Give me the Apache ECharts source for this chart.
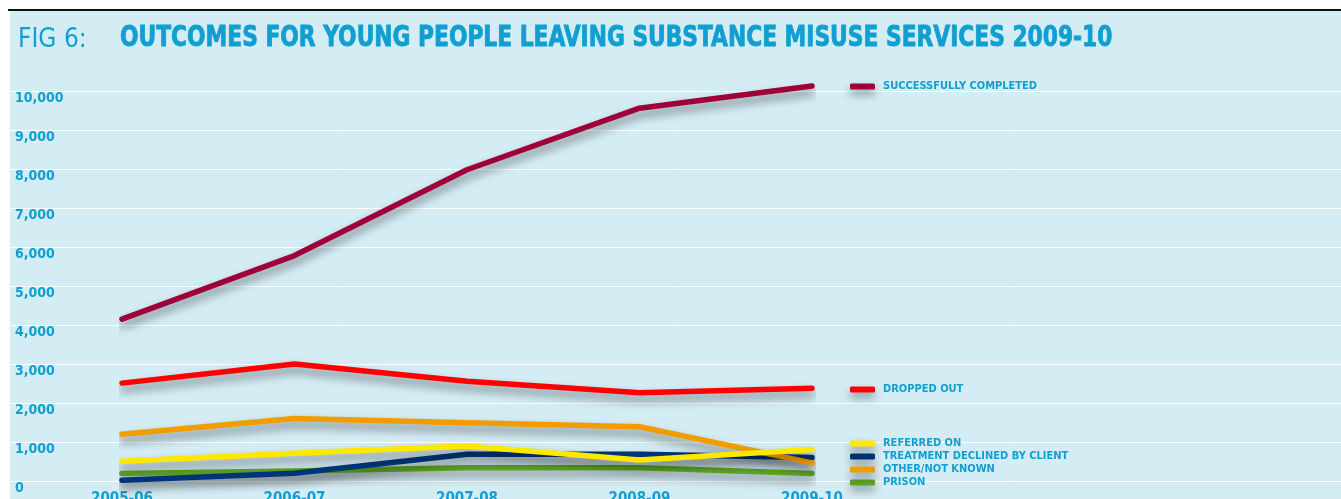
<!DOCTYPE html>
<html>
<head>
<meta charset="utf-8">
<script src="https://cdn.jsdelivr.net/npm/echarts@6/dist/echarts.min.js"></script>
<style>
html,body{margin:0;padding:0;background:#fff;}
#c{width:1341px;height:499px;}
</style>
</head>
<body>
<div id="c"></div>
<script>
const categories = ['2005-06', '2006-07', '2007-08', '2008-09', '2009-10'];
const successfullyCompleted = [4150, 5780, 7980, 9560, 10130];
const droppedOut = [2510, 3000, 2560, 2260, 2380];
const referredOn = [505, 710, 895, 540, 810];
const treatmentDeclined = [20, 200, 685, 685, 600];
const otherNotKnown = [1200, 1600, 1495, 1390, 465];
const prison = [195, 255, 340, 340, 195];
const yTicks = [0, 1000, 2000, 3000, 4000, 5000, 6000, 7000, 8000, 9000, 10000];

const FONT = '"Liberation Sans Narrow", "DejaVu Sans Condensed", sans-serif';
const BLUE = '#109fd0';

const seriesDefs = [
  {name: 'PRISON', data: prison, color: '#5ea625'},
  {name: 'TREATMENT DECLINED BY CLIENT', data: treatmentDeclined, color: '#003478'},
  {name: 'OTHER/NOT KNOWN', data: otherNotKnown, color: '#f39c00'},
  {name: 'REFERRED ON', data: referredOn, color: '#ffe800'},
  {name: 'DROPPED OUT', data: droppedOut, color: '#ff0000'},
  {name: 'SUCCESSFULLY COMPLETED', data: successfullyCompleted, color: '#a0003a'}
];

const legendTops = {
  'SUCCESSFULLY COMPLETED': 76,
  'DROPPED OUT': 379,
  'REFERRED ON': 433,
  'TREATMENT DECLINED BY CLIENT': 446,
  'OTHER/NOT KNOWN': 459,
  'PRISON': 472
};

const chart = echarts.init(document.getElementById('c'));
const fmt = v => String(v).replace(/\B(?=(\d{3})+(?!\d))/g, ',');

chart.setOption({
  animation: false,
  backgroundColor: '#ffffff',
  graphic: [
    {type: 'rect', z: -10, shape: {x: 10, y: 11, width: 1331, height: 488}, style: {fill: '#d4ecf4'}},
    {type: 'rect', z: 10, shape: {x: 8, y: 9, width: 1333, height: 2}, style: {fill: '#111'}},
    {type: 'text', x: 18, y: 27, style: {text: 'FIG 6:', fill: BLUE, font: '400 26px ' + FONT}},
    {type: 'text', x: 120, y: 25, scaleX: 0.865, style: {text: 'OUTCOMES FOR YOUNG PEOPLE LEAVING SUBSTANCE MISUSE SERVICES 2009-10', fill: BLUE, font: '700 28px ' + FONT, stroke: BLUE, lineWidth: 0.8}}
  ],
  grid: [
    {left: 10, right: 0, top: 91, bottom: 18, outerBoundsMode: 'none', containLabel: false},
    {left: 122, right: 529, top: 91, bottom: 18, outerBoundsMode: 'none', containLabel: false}
  ],
  xAxis: [
    {gridIndex: 0, type: 'value', show: false, min: 0, max: 1},
    {gridIndex: 1, type: 'category', boundaryGap: false, data: categories,
      axisLine: {show: false}, axisTick: {show: false}, splitLine: {show: false},
      axisLabel: {margin: 11, color: BLUE, fontFamily: FONT, fontWeight: 'bold', fontSize: 15}}
  ],
  yAxis: [
    {gridIndex: 0, type: 'value', min: 0, max: 10000, interval: 1000,
      axisLine: {show: false}, axisTick: {show: false},
      splitLine: {show: true, lineStyle: {color: '#ffffff', width: 1}},
      axisLabel: {inside: true, margin: 5, verticalAlign: 'top', color: BLUE, fontFamily: FONT, fontWeight: 'bold', fontSize: 14, formatter: fmt}},
    {gridIndex: 1, type: 'value', min: 0, max: 10000, interval: 1000, show: false, splitLine: {show: false}}
  ],
  legend: seriesDefs.map(s => ({
    data: [s.name], left: 845, top: legendTops[s.name], orient: 'vertical',
    icon: 'roundRect', itemWidth: 25, itemHeight: 6, itemGap: 0,
    selectedMode: false,
    textStyle: {color: BLUE, fontFamily: FONT, fontWeight: 'bold', fontSize: 11, padding: [0, 0, 0, 3]},
    itemStyle: {shadowColor: 'rgba(0,0,0,0.4)', shadowBlur: 8, shadowOffsetY: 5}
  })),
  series: seriesDefs.map(s => ({
    name: s.name, type: 'line', xAxisIndex: 1, yAxisIndex: 1, data: s.data,
    clip: false, symbol: 'none', color: s.color,
    lineStyle: {width: 5.5, color: s.color, cap: 'round', join: 'round',
      shadowColor: 'rgba(0,0,0,0.45)', shadowBlur: 10, shadowOffsetY: 6}
  }))
});
</script>
</body>
</html>
